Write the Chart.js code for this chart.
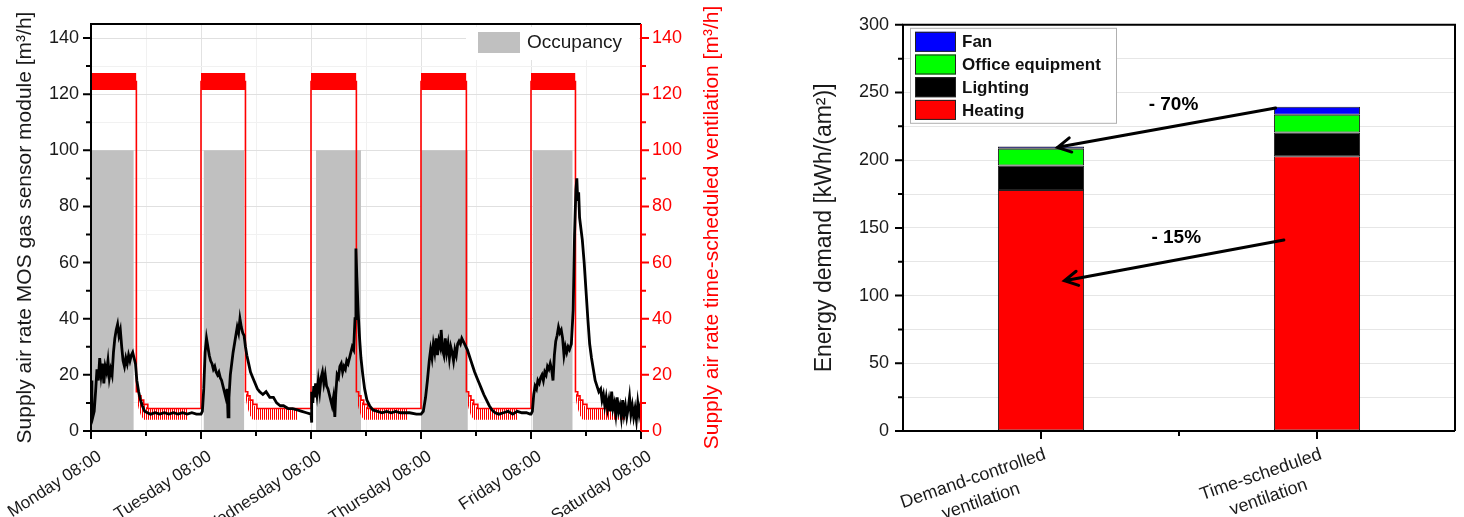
<!DOCTYPE html>
<html lang="en">
<head>
<meta charset="UTF-8">
<title>Supply air rate and energy demand</title>
<script src="https://cdn.jsdelivr.net/npm/chart.js"></script>
<style>
    body {
        margin: 0;
        background: #ffffff;
        width: 1464px;
        height: 517px;
        overflow: hidden;
        position: relative;
        font-family: 'Liberation Sans', Arial, sans-serif;
    }
    .box { position: absolute; top: 0; height: 517px; }
    #left { left: 0; width: 727px; }
    #right { left: 790px; width: 674px; }
</style>
</head>
<body>
<div class="box" id="left"><canvas id="flowChart"></canvas></div>
<div class="box" id="right"><canvas id="energyChart"></canvas></div>

<script>
// ---------- left chart data (hours after Monday 08:00) ----------
const dayLabels = ['Monday 08:00', 'Tuesday 08:00', 'Wednesday 08:00', 'Thursday 08:00', 'Friday 08:00', 'Saturday 08:00'];

const occStart = [0, 24.6, 49.1, 72, 96.4];
const occEnd = [9.3, 33.4, 58.9, 82.2, 105.1];

// time-scheduled ventilation: on at 08:00, off in the evening (hours after 08:00)
const ventOff = [9.9, 9.7, 9.9, 9.9, 9.7];
const ventDay = 124.5, ventDayHigh = 127.5, ventDayLow = 121.5;
const decayHours = [0, 0.5, 1.0, 1.6, 2.5];
const decayLevel = [14, 12.5, 11, 9.5, 8];
const ventNight = 8;
// fluctuation band during the night (hours after switch-off)
const combHours = [0.1, 0.5, 1.0, 1.6, 2.5, 11.3];
const combTop = [13.5, 12.5, 11, 9.5, 8, 8];
const combBottom = [11, 8, 5.5, 4, 4, 4];

// MOS gas sensor controlled supply air, [hour after 08:00, m3/h] per day
const mosMonday = [[0,18],[0.2,8],[0.4,5],[0.7,7],[1.0,14],[1.3,22],[1.6,18],[1.9,26],[2.2,20],[2.5,24],[2.8,17],[3.1,23],[3.4,21],[3.7,25],[4.0,19],[4.3,22],[4.6,20],[4.9,28],[5.2,33],[5.5,36],[5.8,38],[6.1,34],[6.4,36],[6.7,30],[7.0,25],[7.3,23],[7.6,26],[7.9,24],[8.2,27],[8.5,25],[8.8,27],[9.1,28],[9.4,26],[9.7,24],[10.0,18],[10.4,14],[10.8,11],[11.2,9],[11.7,7],[12.3,6.5],[13,6],[14,6.5],[15,6],[16,6.5],[17,6],[18,6.5],[19,6],[20,6.5],[21,6],[22,6.5],[23,6]];
const mosTuesday = [[0,6],[0.3,7],[0.6,15],[0.9,28],[1.2,33],[1.5,30],[1.8,27],[2.1,25],[2.4,24],[2.7,22],[3.0,23],[3.3,21],[3.6,20],[3.9,21],[4.2,19],[4.5,18],[4.8,16],[5.1,14],[5.4,12],[5.7,15],[5.9,5],[6.1,12],[6.4,20],[6.7,24],[7.0,28],[7.3,31],[7.6,34],[7.9,37],[8.2,35],[8.5,40],[8.8,37],[9.1,35],[9.4,34],[9.7,30],[10.0,27],[10.4,24],[10.8,21],[11.3,19],[11.8,17],[12.3,15],[12.8,14],[13.5,13],[14.2,14],[15,12],[15.8,12],[16.5,10],[17.3,9],[18,9],[19,8],[20,8],[21,7.5],[22,7],[23,6.5]];
const mosWednesday = [[0,6],[0.1,3],[0.2,14],[0.4,10],[0.6,16],[0.8,12],[1.0,17],[1.3,13],[1.6,18],[1.9,14],[2.2,19],[2.5,21],[2.8,17],[3.1,20],[3.4,16],[3.7,15],[4.0,13],[4.3,11],[4.6,9],[4.9,12],[5.2,5],[5.4,13],[5.7,20],[6.0,19],[6.3,23],[6.6,24],[6.9,21],[7.2,23],[7.5,22],[7.8,25],[8.1,24],[8.4,26],[8.7,28],[9.0,30],[9.3,29],[9.6,40],[9.8,65],[10.0,55],[10.3,42],[10.6,33],[10.9,26],[11.3,20],[11.7,15],[12.2,11],[12.8,9],[13.5,7.5],[14.5,7],[15.5,6.5],[16.5,7],[17.5,6.5],[18.5,7],[19.5,6.5],[20.5,6.5],[21.5,6.5],[23,6]];
const mosThursday = [[0,6],[0.5,7],[1.0,12],[1.4,18],[1.8,25],[2.1,29],[2.4,26],[2.7,31],[3.0,28],[3.3,33],[3.6,27],[3.9,32],[4.2,30],[4.4,36],[4.7,29],[5.0,27],[5.3,33],[5.6,28],[5.9,31],[6.2,26],[6.5,30],[6.8,28],[7.1,25],[7.4,29],[7.7,27],[8.0,31],[8.3,32],[8.6,31],[8.9,33],[9.2,32],[9.5,31],[9.8,30],[10.1,29],[10.5,27],[10.9,25],[11.3,23],[11.7,21],[12.2,19],[12.7,17],[13.2,15],[13.7,13],[14.3,11],[14.9,9],[15.5,7.5],[16.2,6.5],[17,6],[18,6.5],[19,7],[20,6],[21,7],[22,6.5],[23,6.5],[23.8,6]];
const mosFriday = [[0,6],[0.3,7],[0.6,13],[0.9,16],[1.2,15],[1.5,18],[1.8,17],[2.1,19],[2.4,20],[2.7,18],[3.0,21],[3.3,20],[3.6,23],[3.9,22],[4.2,24],[4.5,22],[4.8,18],[5.1,27],[5.4,32],[5.7,34],[6.0,37],[6.3,35],[6.6,36],[6.9,33],[7.2,27],[7.5,30],[7.8,28],[8.1,30],[8.4,29],[8.8,31],[9.2,43],[9.5,70],[9.8,86],[10.0,90],[10.2,82],[10.4,85],[10.6,76],[10.9,72],[11.2,68],[11.6,60],[12.0,50],[12.4,40],[12.8,31],[13.2,26],[13.6,22],[14.0,18],[14.4,16],[14.8,14],[15.2,15],[15.5,11],[15.8,13],[16.1,9],[16.4,12],[16.7,8],[17.0,11],[17.3,7],[17.6,14],[17.9,8],[18.2,10],[18.5,6],[18.8,12],[19.1,7],[19.4,9],[19.7,5],[20.0,11],[20.3,6],[20.6,9],[20.9,5],[21.2,8],[21.5,12],[21.8,6],[22.1,9],[22.4,5],[22.7,8],[23.0,4],[23.3,10],[23.6,6],[23.9,9],[24,7]];
const mosDays = [mosMonday, mosTuesday, mosWednesday, mosThursday, mosFriday];

// ---------- right chart data ----------
const systems = [['Demand-controlled', 'ventilation'], ['Time-scheduled', 'ventilation']];
const heating = [178, 203];
const lighting = [18, 17.5];
const officeEquipment = [12.5, 13];
const fan = [1.7, 6];

// ---------- build left chart series ----------
let occPoints = [];
occStart.forEach((s, i) => {
    occPoints.push({x: s, y: 0}, {x: s, y: 100}, {x: occEnd[i], y: 100}, {x: occEnd[i], y: 0});
});

let ventPoints = [];
let dayTop = [], dayBottom = [], nightTop = [], nightBottom = [];
ventOff.forEach((off, i) => {
    const on = i * 24, offAbs = on + off;
    ventPoints.push({x: on, y: ventDay}, {x: offAbs, y: ventDay});
    decayHours.forEach((h, k) => ventPoints.push({x: offAbs + h, y: decayLevel[k]}));
    ventPoints.push({x: on + 24, y: ventNight});

    dayTop.push({x: on, y: ventDayHigh}, {x: offAbs, y: ventDayHigh}, {x: offAbs, y: null});
    dayBottom.push({x: on, y: ventDayLow}, {x: offAbs, y: ventDayLow}, {x: offAbs, y: null});
    combHours.forEach((h, k) => {
        nightTop.push({x: offAbs + h, y: combTop[k]});
        nightBottom.push({x: offAbs + h, y: combBottom[k]});
    });
    nightTop.push({x: offAbs + 11.4, y: null});
    nightBottom.push({x: offAbs + 11.4, y: null});
});

let mosPoints = [];
mosDays.forEach((day, i) => day.forEach(p => mosPoints.push({x: i * 24 + p[0], y: p[1]})));

// comb-like red pattern for the night fluctuation
const combCanvas = document.createElement('canvas');
combCanvas.width = 2; combCanvas.height = 4;
const cctx = combCanvas.getContext('2d');
cctx.fillStyle = '#ff0000';
cctx.fillRect(0, 0, 1, 4);
const combPattern = cctx.createPattern(combCanvas, 'repeat');

// ---------- shared plugins ----------
const frameAndTicks = {
    id: 'frameAndTicks',
    afterDatasetsDraw(chart, args, opts) {
        const ctx = chart.ctx, a = chart.chartArea;
        ctx.save();
        ctx.lineWidth = 2;
        ctx.strokeStyle = '#000';
        ctx.beginPath();
        ctx.moveTo(a.left, a.bottom); ctx.lineTo(a.left, a.top); ctx.lineTo(a.right, a.top);
        if (!opts.rightColor) ctx.lineTo(a.right, a.bottom);
        ctx.moveTo(a.left, a.bottom); ctx.lineTo(a.right, a.bottom);
        ctx.stroke();
        if (opts.rightColor) {
            ctx.strokeStyle = opts.rightColor;
            ctx.beginPath(); ctx.moveTo(a.right, a.top); ctx.lineTo(a.right, a.bottom); ctx.stroke();
        }
        Object.values(chart.scales).forEach(s => {
            ctx.strokeStyle = s.options.border.color;
            ctx.lineWidth = 2;
            const marks = [];
            const cb = s.options.ticks.callback;
            s.ticks.forEach((t, i) => {
                const major = s.type === 'category' || cb.call(s, t.value, i, s.ticks) !== '';
                marks.push([s.getPixelForTick(i), major ? 8 : 5]);
            });
            if (s.type === 'category') {
                for (let i = 0; i < s.ticks.length - 1; i++) {
                    marks.push([(s.getPixelForTick(i) + s.getPixelForTick(i + 1)) / 2, 5]);
                }
            }
            ctx.beginPath();
            marks.forEach(([p, len]) => {
                if (s.axis === 'x') { ctx.moveTo(p, a.bottom); ctx.lineTo(p, a.bottom + len); }
                else if (s.position === 'left') { ctx.moveTo(a.left, p); ctx.lineTo(a.left - len, p); }
                else { ctx.moveTo(a.right, p); ctx.lineTo(a.right + len, p); }
            });
            ctx.stroke();
        });
        ctx.restore();
    }
};

const fontFamily = "'Liberation Sans', Arial, sans-serif";
const tickFont = {family: fontFamily, size: 18};
const stepTicks = (max, step) => s => {
    s.ticks = [];
    for (let v = 0; v <= max; v += step) s.ticks.push({value: v});
};

// rotated x tick labels drawn with the right end just past the tick
const rotatedLabels = {
    id: 'rotatedLabels',
    afterDraw(chart, args, opts) {
        const ctx = chart.ctx, a = chart.chartArea;
        ctx.save();
        ctx.font = opts.size + 'px ' + fontFamily;
        ctx.fillStyle = '#1a1a1a';
        ctx.textBaseline = 'middle';
        opts.items(chart).forEach(([pos, lines]) => {
            const w1 = ctx.measureText(lines[0]).width;
            ctx.save();
            ctx.translate(pos + opts.dx, a.bottom + opts.dy);
            ctx.rotate(-opts.angle * Math.PI / 180);
            ctx.textAlign = 'center';
            lines.forEach((t, k) => ctx.fillText(t, -w1 / 2, k * opts.lineGap));
            ctx.restore();
        });
        ctx.restore();
    }
};

// ---------- left chart ----------
const occupancyLegend = {
    id: 'occupancyLegend',
    afterDraw(chart) {
        const ctx = chart.ctx, a = chart.chartArea;
        const ds = chart.data.datasets.find(d => d.label === 'Occupancy');
        ctx.save();
        ctx.fillStyle = '#ffffff';
        ctx.fillRect(a.right - 175, a.top + 3, 173, 33);
        ctx.fillStyle = ds.backgroundColor;
        ctx.fillRect(a.right - 163, a.top + 8, 42, 21);
        ctx.fillStyle = '#1a1a1a';
        ctx.font = '19px ' + fontFamily;
        ctx.textBaseline = 'middle';
        ctx.fillText(ds.label, a.right - 114, a.top + 19);
        ctx.restore();
    }
};

// right-hand axis title, read from bottom to top like the left one
const rightTitle = {
    id: 'rightTitle',
    afterDraw(chart, args, opts) {
        const ctx = chart.ctx, a = chart.chartArea;
        ctx.save();
        ctx.translate(opts.x, (a.top + a.bottom) / 2);
        ctx.rotate(-Math.PI / 2);
        ctx.fillStyle = opts.color;
        ctx.font = '21px ' + fontFamily;
        ctx.textAlign = 'center';
        ctx.textBaseline = 'middle';
        ctx.fillText(opts.text, 0, 0);
        ctx.restore();
    }
};

new Chart(document.getElementById('flowChart'), {
    type: 'line',
    data: {
        datasets: [
            {label: 'MOS gas sensor module', data: mosPoints, borderColor: '#000000', borderWidth: 2.8,
             pointRadius: 0, fill: false, order: 0, yAxisID: 'y'},
            {label: 'Time-scheduled ventilation', data: ventPoints, borderColor: '#ff0000', borderWidth: 1.6,
             pointRadius: 0, fill: false, stepped: true, order: 1, yAxisID: 'y2'},
            {label: 'day top', data: dayTop, borderWidth: 0, pointRadius: 0, fill: false, order: 2, yAxisID: 'y2', spanGaps: false},
            {label: 'day bottom', data: dayBottom, borderWidth: 0, pointRadius: 0, fill: '-1', backgroundColor: '#ff0000',
             order: 2, yAxisID: 'y2', spanGaps: false},
            {label: 'night top', data: nightTop, borderWidth: 0, pointRadius: 0, fill: false, order: 3, yAxisID: 'y2', spanGaps: false},
            {label: 'night bottom', data: nightBottom, borderWidth: 0, pointRadius: 0, fill: '-1', backgroundColor: combPattern,
             order: 3, yAxisID: 'y2', spanGaps: false},
            {label: 'Occupancy', data: occPoints, borderWidth: 0, pointRadius: 0, fill: 'origin',
             backgroundColor: '#c0c0c0', order: 5, yAxisID: 'y'}
        ]
    },
    options: {
        responsive: true,
        maintainAspectRatio: false,
        animation: false,
        devicePixelRatio: 1,
        layout: {padding: {left: 9, top: 24, right: 0, bottom: 0}},
        plugins: {
            legend: {display: false},
            tooltip: {enabled: false},
            frameAndTicks: {rightColor: '#ff0000'},
            rightTitle: {x: 712, color: '#ff0000', text: 'Supply air rate time-scheduled ventilation [m³/h]'},
            rotatedLabels: {
                size: 17, angle: 33, dx: 9, dy: 24, lineGap: 0,
                items: chart => dayLabels.map((d, i) => [chart.scales.x.getPixelForValue(i * 24), [d]])
            }
        },
        scales: {
            x: {
                type: 'linear', min: 0, max: 120,
                afterBuildTicks: stepTicks(120, 12),
                afterFit: s => { s.height = 86; s.paddingLeft = 0; s.paddingRight = 0; },
                grid: {color: c => (c.tick && c.tick.value % 24 === 0) ? '#e2e2e2' : '#f1f1f1', drawTicks: false},
                border: {display: false, color: '#000'},
                ticks: {display: false, callback: v => v % 24 === 0 ? dayLabels[v / 24] : ''}
            },
            y: {
                position: 'left', min: 0, max: 145,
                afterBuildTicks: stepTicks(140, 10),
                afterFit: s => { s.width = 82; },
                grid: {color: c => (c.tick && c.tick.value % 20 === 0) ? '#e0e0e0' : '#f1f1f1', drawTicks: false},
                border: {display: false, color: '#000'},
                ticks: {padding: 12, color: '#1a1a1a', font: tickFont,
                        callback: v => v % 20 === 0 ? String(v) : ''},
                title: {display: true, text: 'Supply air rate MOS gas sensor module [m³/h]', color: '#1a1a1a',
                        font: {family: fontFamily, size: 21}}
            },
            y2: {
                position: 'right', min: 0, max: 145,
                afterBuildTicks: stepTicks(140, 10),
                afterFit: s => { s.width = 86; },
                grid: {display: false, drawTicks: false},
                border: {display: false, color: '#ff0000'},
                ticks: {padding: 11, color: '#ff0000', font: tickFont,
                        callback: v => v % 20 === 0 ? String(v) : ''}
            }
        }
    },
    plugins: [frameAndTicks, occupancyLegend, rightTitle, rotatedLabels]
});

// ---------- right chart ----------
const energyLegend = {
    id: 'energyLegend',
    afterDraw(chart) {
        const ctx = chart.ctx, a = chart.chartArea;
        const x0 = a.left + 7, y0 = a.top + 3;
        ctx.save();
        ctx.fillStyle = '#ffffff';
        ctx.fillRect(x0, y0, 206, 95);
        ctx.strokeStyle = '#b0b0b0';
        ctx.lineWidth = 1;
        ctx.strokeRect(x0 + 0.5, y0 + 0.5, 206, 95);
        ctx.font = 'bold 17px ' + fontFamily;
        ctx.textBaseline = 'middle';
        chart.data.datasets.slice().reverse().forEach((ds, i) => {
            const y = y0 + 4 + i * 22.7;
            ctx.fillStyle = ds.backgroundColor;
            ctx.fillRect(x0 + 5, y, 41, 20);
            ctx.strokeStyle = '#222';
            ctx.strokeRect(x0 + 5.5, y + 0.5, 40, 19);
            ctx.fillStyle = '#111';
            ctx.fillText(ds.label, x0 + 52, y + 11);
        });
        ctx.restore();
    }
};

// arrows: [category index, kWh/(am2)] positions
const reductionNotes = [
    {text: '- 70%', label: [0.48, 241], from: [0.85, 238.5], to: [0.06, 209.5]},
    {text: '- 15%', label: [0.49, 142.5], from: [0.88, 141], to: [0.085, 111]}
];

const arrowNotes = {
    id: 'arrowNotes',
    afterDatasetsDraw(chart) {
        const ctx = chart.ctx, xs = chart.scales.x, ys = chart.scales.y;
        const px = p => [xs.getPixelForValue(p[0]), ys.getPixelForValue(p[1])];
        ctx.save();
        ctx.strokeStyle = '#000';
        ctx.fillStyle = '#000';
        ctx.lineWidth = 3;
        ctx.lineCap = 'round';
        ctx.font = 'bold 19px ' + fontFamily;
        ctx.textAlign = 'center';
        ctx.textBaseline = 'middle';
        reductionNotes.forEach(n => {
            const [x1, y1] = px(n.from), [x2, y2] = px(n.to);
            const ang = Math.atan2(y2 - y1, x2 - x1);
            ctx.beginPath();
            ctx.moveTo(x1, y1); ctx.lineTo(x2, y2);
            const hl = 15;
            ctx.moveTo(x2 - hl * Math.cos(ang - 0.5), y2 - hl * Math.sin(ang - 0.5));
            ctx.lineTo(x2, y2);
            ctx.lineTo(x2 - hl * Math.cos(ang + 0.5), y2 - hl * Math.sin(ang + 0.5));
            ctx.stroke();
            const [lx, ly] = px(n.label);
            ctx.fillText(n.text, lx, ly);
        });
        ctx.restore();
    }
};

new Chart(document.getElementById('energyChart'), {
    type: 'bar',
    data: {
        labels: systems,
        datasets: [
            {label: 'Heating', data: heating, backgroundColor: '#ff0000'},
            {label: 'Lighting', data: lighting, backgroundColor: '#000000'},
            {label: 'Office equipment', data: officeEquipment, backgroundColor: '#00ff00'},
            {label: 'Fan', data: fan, backgroundColor: '#0000ff'}
        ].map(d => Object.assign(d, {borderColor: '#222', borderWidth: 1, borderSkipped: false,
                                     categoryPercentage: 1, barPercentage: 0.312}))
    },
    options: {
        responsive: true,
        maintainAspectRatio: false,
        animation: false,
        devicePixelRatio: 1,
        layout: {padding: {left: 17, top: 24, right: 9, bottom: 0}},
        plugins: {
            legend: {display: false},
            tooltip: {enabled: false},
            frameAndTicks: {},
            rotatedLabels: {
                size: 18, angle: 19, dx: 4, dy: 23, lineGap: 24,
                items: chart => systems.map((s, i) => [chart.scales.x.getPixelForTick(i), s])
            }
        },
        scales: {
            x: {
                stacked: true,
                afterFit: s => { s.height = 86; s.paddingLeft = 0; s.paddingRight = 0; },
                grid: {display: false, drawTicks: false},
                border: {display: false, color: '#000'},
                ticks: {display: false}
            },
            y: {
                stacked: true, min: 0, max: 300,
                afterBuildTicks: stepTicks(300, 25),
                afterFit: s => { s.width = 96; },
                grid: {color: '#e6e6e6', drawTicks: false},
                border: {display: false, color: '#000'},
                ticks: {padding: 14, color: '#1a1a1a', font: tickFont,
                        callback: v => v % 50 === 0 ? String(v) : ''},
                title: {display: true, text: 'Energy demand [kWh/(am²)]', color: '#1a1a1a',
                        font: {family: fontFamily, size: 23}}
            }
        }
    },
    plugins: [frameAndTicks, energyLegend, arrowNotes, rotatedLabels]
});
</script>
</body>
</html>
